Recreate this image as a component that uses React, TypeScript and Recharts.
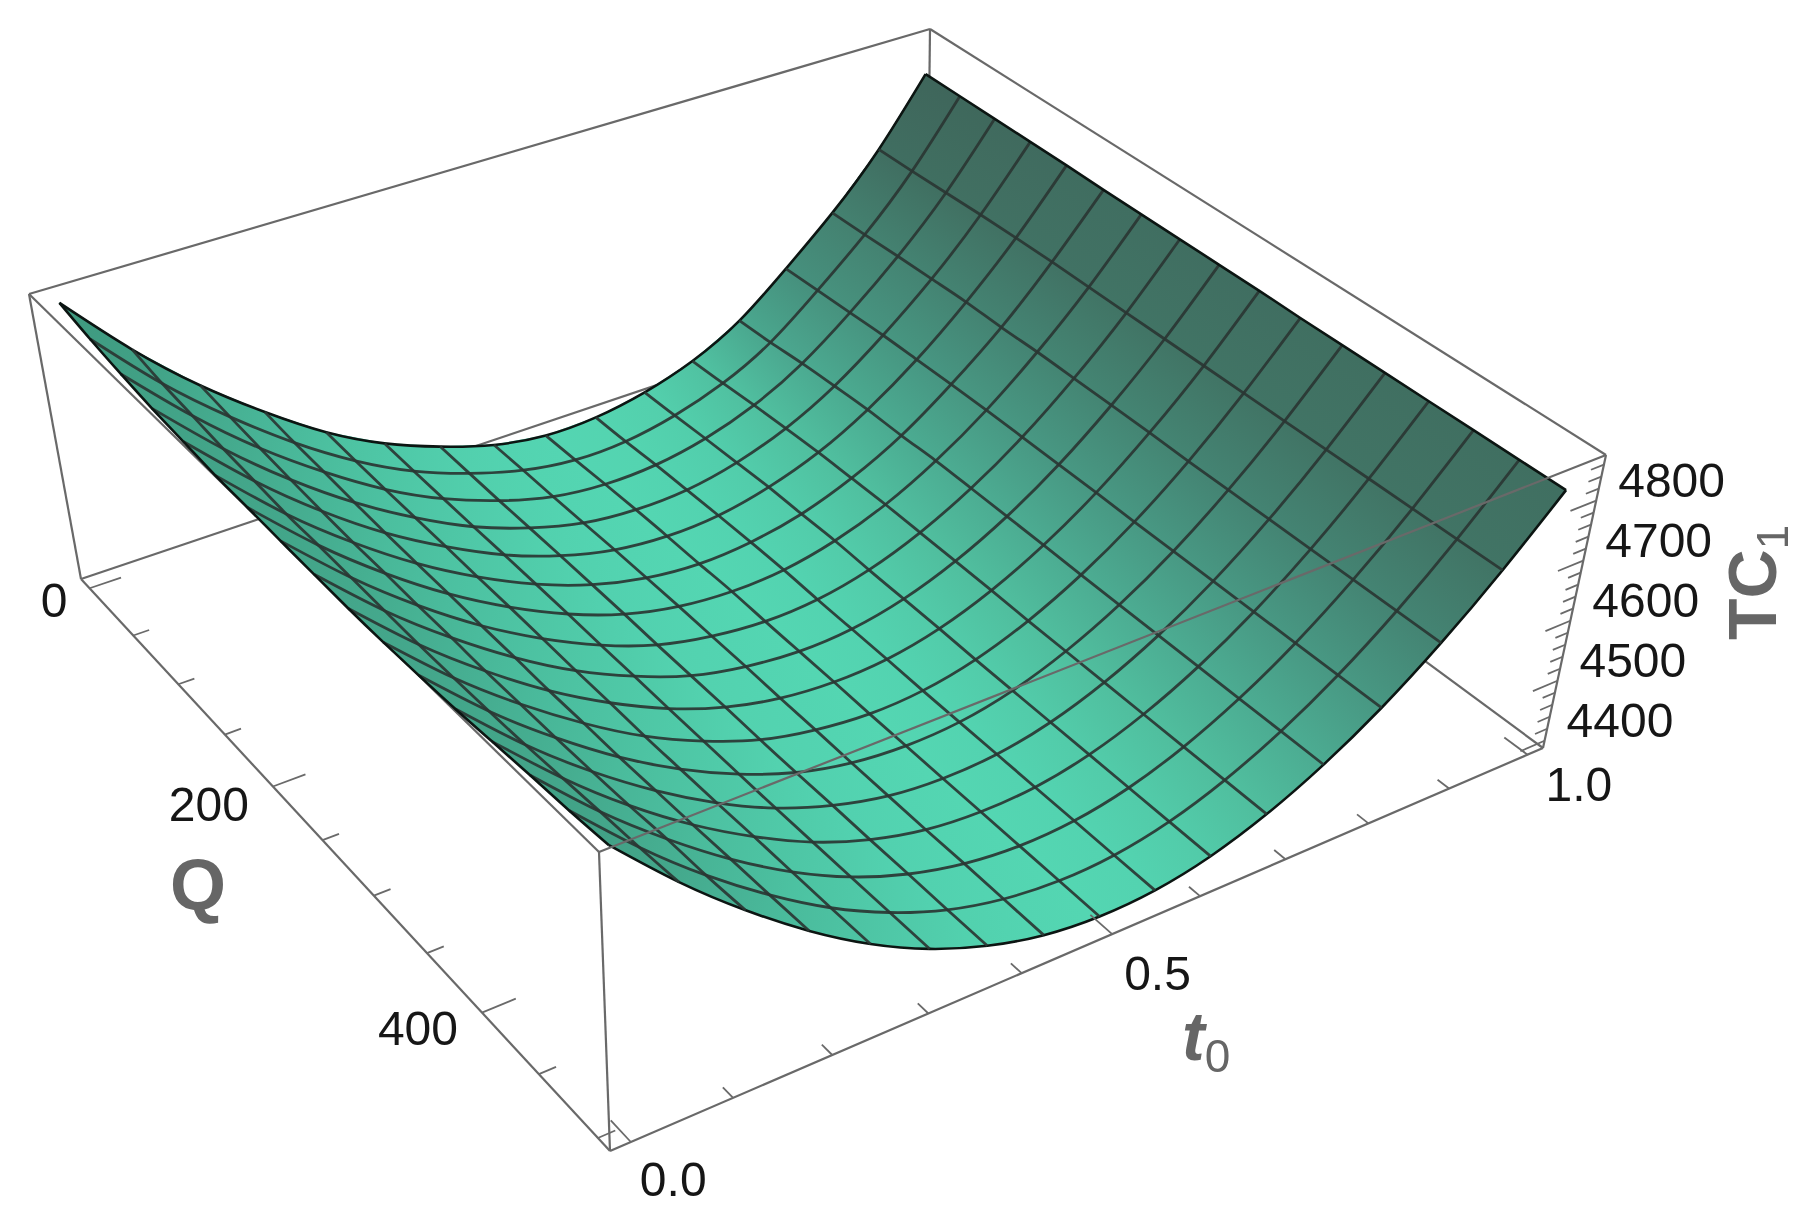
import { Scatter, ScatterChart, XAxis, YAxis } from "recharts";

const W = 1805;
const H = 1216;

// t0 and Q at the mesh lines
const t0Values = [0, 0.0625, 0.125, 0.1875, 0.25, 0.3125, 0.375, 0.4375, 0.5, 0.5625, 0.625, 0.6875, 0.75, 0.8125, 0.875, 0.9375, 1];
const qValues = [0, 31.25, 62.5, 93.75, 125, 156.25, 187.5, 218.75, 250, 281.25, 312.5, 343.75, 375, 406.25, 437.5, 468.75, 500];

// TC1: one row per Q, one column per t0
const tc1Rows = [
  [4866, 4754, 4660, 4582, 4515, 4464, 4427, 4399, 4385, 4387, 4402, 4429, 4473, 4539, 4613, 4702, 4814],
  [4853, 4744, 4654, 4577, 4513, 4463, 4427, 4401, 4388, 4390, 4406, 4434, 4478, 4543, 4616, 4704, 4814],
  [4843, 4738, 4649, 4575, 4512, 4463, 4427, 4402, 4392, 4395, 4411, 4440, 4485, 4547, 4620, 4707, 4814],
  [4835, 4732, 4645, 4572, 4512, 4463, 4428, 4404, 4395, 4398, 4415, 4445, 4490, 4551, 4623, 4710, 4814],
  [4830, 4728, 4642, 4570, 4512, 4464, 4429, 4406, 4397, 4401, 4419, 4449, 4494, 4553, 4626, 4712, 4814],
  [4825, 4724, 4640, 4569, 4511, 4464, 4429, 4407, 4398, 4403, 4420, 4451, 4495, 4555, 4626, 4713, 4813],
  [4824, 4724, 4640, 4569, 4511, 4464, 4429, 4408, 4400, 4404, 4422, 4453, 4498, 4556, 4628, 4713, 4813],
  [4822, 4723, 4639, 4568, 4510, 4463, 4428, 4408, 4399, 4403, 4421, 4453, 4498, 4556, 4628, 4713, 4813],
  [4821, 4722, 4639, 4568, 4509, 4463, 4428, 4408, 4399, 4403, 4421, 4453, 4498, 4556, 4628, 4713, 4813],
  [4820, 4721, 4638, 4567, 4509, 4462, 4428, 4407, 4399, 4403, 4421, 4453, 4498, 4556, 4628, 4713, 4813],
  [4821, 4722, 4639, 4568, 4508, 4462, 4427, 4407, 4398, 4402, 4420, 4452, 4497, 4555, 4627, 4713, 4812],
  [4824, 4724, 4640, 4568, 4509, 4462, 4427, 4406, 4398, 4402, 4420, 4452, 4497, 4555, 4627, 4713, 4812],
  [4828, 4727, 4642, 4570, 4510, 4462, 4428, 4406, 4398, 4402, 4420, 4452, 4497, 4555, 4627, 4713, 4812],
  [4834, 4732, 4645, 4572, 4512, 4463, 4428, 4406, 4398, 4402, 4420, 4452, 4497, 4555, 4627, 4713, 4812],
  [4840, 4737, 4650, 4575, 4513, 4464, 4429, 4407, 4398, 4402, 4420, 4452, 4497, 4555, 4627, 4713, 4812],
  [4845, 4741, 4652, 4577, 4514, 4465, 4429, 4407, 4398, 4402, 4420, 4452, 4497, 4555, 4627, 4713, 4812],
  [4852, 4747, 4657, 4580, 4516, 4466, 4430, 4407, 4398, 4402, 4420, 4452, 4497, 4555, 4627, 4713, 4812],
];

const qTicks = [0, 50, 100, 150, 200, 250, 300, 350, 400, 450, 500];
const qTickLabels = ["0", "200", "400"];
const t0Ticks = [0, 0.1, 0.2, 0.3, 0.4, 0.5, 0.6, 0.7, 0.8, 0.9, 1];
const t0TickLabels = ["0.0", "0.5", "1.0"];
const tcTicks = [
  4400, 4420, 4440, 4460, 4480, 4500, 4520, 4540, 4560, 4580, 4600, 4620, 4640, 4660, 4680, 4700, 4720, 4740, 4760, 4780, 4800, 4820, 4840, 4860,
];
const tcTickLabels = ["4400", "4500", "4600", "4700", "4800"];

// shading: slope of TC1 along t0 -> colour
const shadeSlopes = [-1800, -1000, -400, 0, 300, 600, 900, 1200, 1500, 1800];
const shadeColors = ["#3f9a80", "#4cc0a0", "#53d3b0", "#54d6b2", "#53d1ae", "#50bf9f", "#4aa58d", "#458977", "#417264", "#3f665b"];

// box corners on the page (bottom, top): A t=0 Q=0, B t=1 Q=0, C t=1 Q=500, D t=0 Q=500
const BOT = { a: [81, 579], b: [927, 294], c: [1543, 748], d: [610, 1151] };
const TOP = { a: [29, 294], b: [930, 29], c: [1606, 455], d: [599, 852] };

// tick label offsets from their axis ticks
const qLabelNudges = [[-22, 12], [-24, 18], [-24, 16]];
const t0LabelNudges = [[9, 38], [12, 39], [18, 30]];
const tcLabelNudge = [22, -20];

const warp = (u: number, k: number) => u / (u + k * (1 - u));

function projectBox(tb: number, qb: number, zb: number) {
  const u = warp(tb, 0.858);
  const v = warp(qb, 1.19);
  const plane = (p: typeof BOT, n: number) =>
    (1 - v) * ((1 - u) * p.a[n] + u * p.b[n]) + v * ((1 - u) * p.d[n] + u * p.c[n]);
  return { x: plane(BOT, 0) * (1 - zb) + plane(TOP, 0) * zb, y: plane(BOT, 1) * (1 - zb) + plane(TOP, 1) * zb };
}

const tBox = (t: number) => (t + 0.02) / 1.04;
const qBox = (q: number) => (q + 10) / 520;
const zBox = (z: number) => (z - 4388) / 488;
const project = (t: number, q: number, z: number) => projectBox(tBox(t), qBox(q), zBox(z));

function hexRgb(h: string) {
  return [1, 3, 5].map((n) => parseInt(h.slice(n, n + 2), 16));
}

function shadeFor(slope: number) {
  const s = Math.max(shadeSlopes[0], Math.min(shadeSlopes[shadeSlopes.length - 1], slope));
  let k = 0;
  while (k < shadeSlopes.length - 2 && s > shadeSlopes[k + 1]) k++;
  const f = (s - shadeSlopes[k]) / (shadeSlopes[k + 1] - shadeSlopes[k]);
  const a = hexRgb(shadeColors[k]);
  const b = hexRgb(shadeColors[k + 1]);
  return `rgb(${a.map((v, n) => Math.round(v + (b[n] - v) * f)).join(",")})`;
}

function nodeShade(j: number, i: number) {
  const lo = Math.max(0, i - 1);
  const hi = Math.min(t0Values.length - 1, i + 1);
  return shadeFor((tc1Rows[j][hi] - tc1Rows[j][lo]) / (t0Values[hi] - t0Values[lo]));
}

const node = (j: number, i: number) => project(t0Values[i], qValues[j], tc1Rows[j][i]);

// far cells first
const facets: any[] = [];
for (let j = 0; j < qValues.length - 1; j++) {
  for (let i = t0Values.length - 2; i >= 0; i--) {
    const p = [node(j, i), node(j, i + 1), node(j + 1, i + 1), node(j + 1, i)];
    facets.push({
      x: p[0].x,
      y: p[0].y,
      id: `cell-${j}-${i}`,
      offsets: p.map((n) => [n.x - p[0].x, n.y - p[0].y]),
      from: nodeShade(j, i),
      to: nodeShade(j, i + 1),
    });
  }
}

const FacetShape = (props: any) => {
  const { cx, cy, payload } = props;
  const pts = payload.offsets.map((o: number[]) => [cx + o[0], cy + o[1]]);
  const mid = (a: number[], b: number[]) => [(a[0] + b[0]) / 2, (a[1] + b[1]) / 2];
  const g0 = mid(pts[0], pts[3]);
  const g1 = mid(pts[1], pts[2]);
  return (
    <g>
      <defs>
        <linearGradient id={payload.id} gradientUnits="userSpaceOnUse" x1={g0[0]} y1={g0[1]} x2={g1[0]} y2={g1[1]}>
          <stop offset="0%" stopColor={payload.from} />
          <stop offset="100%" stopColor={payload.to} />
        </linearGradient>
      </defs>
      <polygon
        points={pts.map((q: number[]) => q.join(",")).join(" ")}
        fill={`url(#${payload.id})`}
        stroke={`url(#${payload.id})`}
        strokeWidth={0.9}
      />
    </g>
  );
};

const NoPoint = () => null;

const TickShape = (props: any) => {
  const { cx, cy, payload } = props;
  return <line x1={cx} y1={cy} x2={cx + payload.dx} y2={cy + payload.dy} stroke="#6a6a6a" strokeWidth={1.8} />;
};

const LabelShape = (props: any) => {
  const { cx, cy, payload } = props;
  return (
    <text
      x={cx + payload.nudge[0]}
      y={cy + payload.nudge[1]}
      textAnchor={payload.anchor}
      dominantBaseline="central"
      fontFamily="'Liberation Sans', Arial, sans-serif"
      fontSize={48}
      fill="#161616"
    >
      {payload.text}
    </text>
  );
};

const tickSeg = (base: { x: number; y: number }, end: { x: number; y: number }) => ({
  x: base.x,
  y: base.y,
  dx: end.x - base.x,
  dy: end.y - base.y,
});

const qTickMarks = qTicks.map((q) => {
  const len = q % 200 === 0 ? 0.032 : 0.016;
  return tickSeg(projectBox(0, qBox(q), 0), projectBox(len, qBox(q), 0));
});
const t0TickMarks = t0Ticks.map((t) => {
  const len = Math.round(t * 10) % 5 === 0 ? 0.032 : 0.016;
  return tickSeg(projectBox(tBox(t), 1, 0), projectBox(tBox(t), 1 - len, 0));
});
const tcTickMarks = tcTicks.map((z) => {
  const len = z % 100 === 0 ? 0.03 : 0.015;
  return tickSeg(projectBox(1, 1, zBox(z)), projectBox(1 - len, 1, zBox(z)));
});

const qLabelData = qTickLabels.map((s, n) => ({
  ...projectBox(0, qBox(Number(s)), 0),
  text: s,
  anchor: "end",
  nudge: qLabelNudges[n],
}));
const t0LabelData = t0TickLabels.map((s, n) => ({
  ...projectBox(tBox(Number(s)), 1, 0),
  text: s,
  anchor: "start",
  nudge: t0LabelNudges[n],
}));
const tcLabelData = tcTickLabels.map((s) => ({
  ...projectBox(1, 1, zBox(Number(s))),
  text: s,
  anchor: "start",
  nudge: tcLabelNudge,
}));

const edge = (a: number[], b: number[]) => [projectBox(a[0], a[1], a[2]), projectBox(b[0], b[1], b[2])];

// box edges in unit box coordinates (t, Q, TC1)
const backEdges = [
  edge([0, 0, 0], [1, 0, 0]),
  edge([1, 0, 0], [1, 1, 0]),
  edge([1, 0, 0], [1, 0, 1]),
  edge([0, 0, 1], [1, 0, 1]),
  edge([1, 0, 1], [1, 1, 1]),
  edge([0, 0, 0], [0, 0, 1]),
  edge([0, 0, 1], [0, 1, 1]),
];
const frontEdges = [
  edge([0, 1, 1], [1, 1, 1]),
  edge([0, 1, 0], [0, 1, 1]),
  edge([1, 1, 0], [1, 1, 1]),
  edge([0, 0, 0], [0, 1, 0]),
  edge([0, 1, 0], [1, 1, 0]),
];

const qLines = qValues.map((_, j) => t0Values.map((__, i) => node(j, i)));
const tLines = t0Values.map((_, i) => qValues.map((__, j) => node(j, i)));

const axisFont = "'Liberation Sans', Arial, sans-serif";

const boxLine = { stroke: "#696969", strokeWidth: 2.2 };

const meshLine = (rim: boolean) => ({
  stroke: rim ? "#0c1512" : "#2a3633",
  strokeWidth: rim ? 2.6 : 2.8,
  strokeOpacity: rim ? 1 : 0.92,
  fill: "none",
});

export default function App() {
  return (
    <div style={{ position: "absolute", left: 0, top: 0, width: W, height: H, background: "#fff", filter: "blur(0.6px)" }}>
      <ScatterChart width={W} height={H} margin={{ top: 0, right: 0, bottom: 0, left: 0 }}>
        <XAxis dataKey="x" type="number" domain={[0, W]} hide />
        <YAxis dataKey="y" type="number" domain={[0, H]} reversed hide />

        {backEdges.map((e, n) => (
          <Scatter key={`back-${n}`} data={e} line={boxLine} shape={NoPoint} isAnimationActive={false} />
        ))}

        <Scatter data={facets} shape={FacetShape} isAnimationActive={false} />

        {qLines.map((l, n) => (
          <Scatter
            key={`ql-${n}`}
            data={l}
            line={meshLine(n === 0 || n === qLines.length - 1)}
            lineJointType="natural"
            shape={NoPoint}
            isAnimationActive={false}
          />
        ))}
        {tLines.map((l, n) => (
          <Scatter
            key={`tl-${n}`}
            data={l}
            line={meshLine(n === 0 || n === tLines.length - 1)}
            lineJointType="natural"
            shape={NoPoint}
            isAnimationActive={false}
          />
        ))}

        {frontEdges.map((e, n) => (
          <Scatter key={`front-${n}`} data={e} line={boxLine} shape={NoPoint} isAnimationActive={false} />
        ))}

        <Scatter data={qTickMarks} shape={TickShape} isAnimationActive={false} />
        <Scatter data={t0TickMarks} shape={TickShape} isAnimationActive={false} />
        <Scatter data={tcTickMarks} shape={TickShape} isAnimationActive={false} />

        <Scatter data={qLabelData} shape={LabelShape} isAnimationActive={false} />
        <Scatter data={t0LabelData} shape={LabelShape} isAnimationActive={false} />
        <Scatter data={tcLabelData} shape={LabelShape} isAnimationActive={false} />

        <text x={198} y={910} textAnchor="middle" fontFamily={axisFont} fontWeight="bold" fontSize={72} fill="#666666">
          Q
        </text>
        <text x={1182} y={1060} fontFamily={axisFont} fontWeight="bold" fontStyle="italic" fontSize={68} fill="#666666">
          t
          <tspan dy={12} fontSize={46} fontStyle="normal" fontWeight="normal">
            0
          </tspan>
        </text>
        <text
          transform="translate(1776,640) rotate(-90)"
          fontFamily={axisFont}
          fontWeight="bold"
          fontSize={68}
          fill="#666666"
        >
          TC
          <tspan dy={12} fontSize={44} fontWeight="normal">
            1
          </tspan>
        </text>
      </ScatterChart>
    </div>
  );
}
